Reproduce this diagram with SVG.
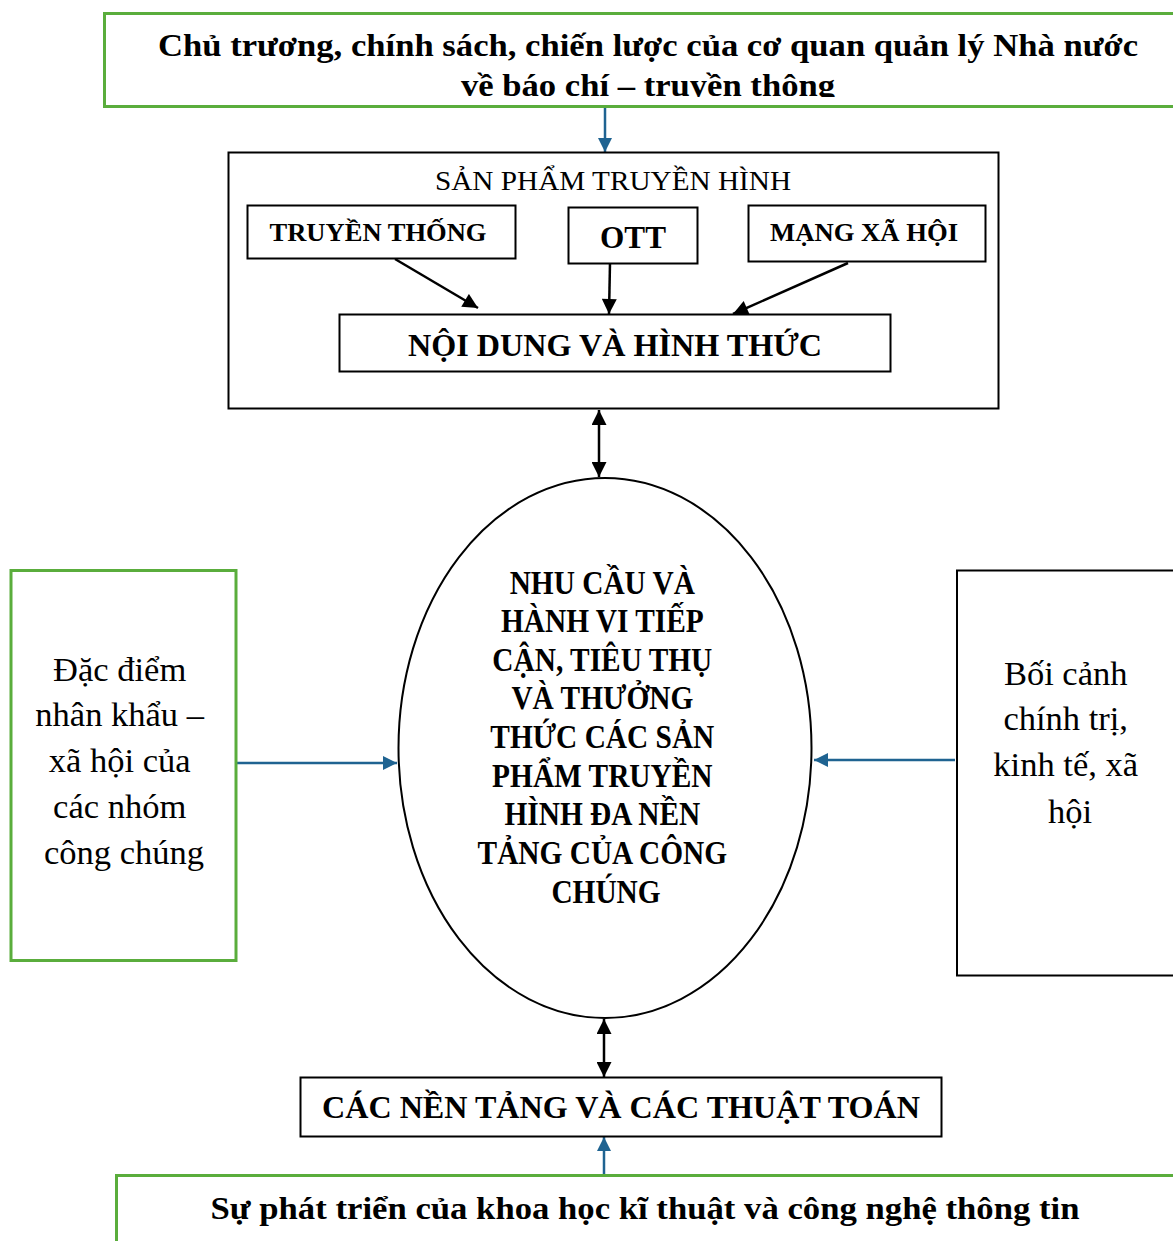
<svg xmlns="http://www.w3.org/2000/svg" width="1173" height="1241" viewBox="0 0 1173 1241">
<defs>
<marker id="bh" viewBox="0 0 10 10" refX="10" refY="5" markerWidth="15" markerHeight="14" markerUnits="userSpaceOnUse" orient="auto-start-reverse"><path d="M0,0 L10,5 L0,10 z" fill="#1f6391"/></marker>
<marker id="kh" viewBox="0 0 10 10" refX="10" refY="5" markerWidth="17" markerHeight="15" markerUnits="userSpaceOnUse" orient="auto-start-reverse"><path d="M0,0 L10,5 L0,10 z" fill="#000"/></marker>
<clipPath id="topclip"><rect x="104" y="13" width="1069" height="84"/></clipPath>
</defs>
<rect width="1173" height="1241" fill="#fff"/>
<g id="connectors" fill="none" stroke-width="2.5">
<line stroke="#1f6391" x1="605" y1="107" x2="605" y2="152" marker-end="url(#bh)"/>
<line stroke="#000" x1="599" y1="410" x2="599" y2="477" marker-start="url(#kh)" marker-end="url(#kh)"/>
<line stroke="#1f6391" x1="237" y1="763" x2="397" y2="763" marker-end="url(#bh)"/>
<line stroke="#1f6391" x1="955" y1="760" x2="814" y2="760" marker-end="url(#bh)"/>
<line stroke="#000" x1="604" y1="1019" x2="604" y2="1077" marker-start="url(#kh)" marker-end="url(#kh)"/>
<line stroke="#1f6391" x1="604" y1="1175" x2="604" y2="1137" marker-end="url(#bh)"/>
<line stroke="#000" x1="395" y1="259" x2="478" y2="308" marker-end="url(#kh)"/>
<line stroke="#000" x1="610" y1="263" x2="609" y2="314" marker-end="url(#kh)"/>
<line stroke="#000" x1="848" y1="263" x2="733" y2="314" marker-end="url(#kh)"/>
</g>
<g id="policy">
<rect fill="#fff" stroke="#5aad3c" stroke-width="3" x="104.5" y="13.5" width="1075" height="93"/>
<g clip-path="url(#topclip)">
<text font-family="Liberation Serif" font-weight="bold" text-anchor="middle" x="648" y="56" font-size="32" textLength="980" lengthAdjust="spacingAndGlyphs">Chủ trương, chính sách, chiến lược của cơ quan quản lý Nhà nước</text>
<text font-family="Liberation Serif" font-weight="bold" text-anchor="middle" x="648" y="96" font-size="32" textLength="374" lengthAdjust="spacingAndGlyphs">về báo chí – truyền thông</text>
</g>
</g>
<g id="products">
<rect fill="none" stroke="#000" stroke-width="2" x="228.5" y="152.5" width="770" height="256"/>
<text font-family="Liberation Serif" text-anchor="middle" x="613" y="190" font-size="28" textLength="356" lengthAdjust="spacingAndGlyphs">SẢN PHẨM TRUYỀN HÌNH</text>
</g>
<g id="traditional">
<rect fill="#fff" stroke="#000" stroke-width="2" x="247.5" y="205.5" width="268" height="53"/>
<text font-family="Liberation Serif" font-weight="bold" text-anchor="middle" x="378" y="241" font-size="26" textLength="217" lengthAdjust="spacingAndGlyphs">TRUYỀN THỐNG</text>
</g>
<g id="ott">
<rect fill="#fff" stroke="#000" stroke-width="2" x="568.5" y="207.5" width="129" height="56"/>
<text font-family="Liberation Serif" font-weight="bold" text-anchor="middle" x="633" y="248" font-size="31" textLength="66" lengthAdjust="spacingAndGlyphs">OTT</text>
</g>
<g id="social">
<rect fill="#fff" stroke="#000" stroke-width="2" x="748.5" y="205.5" width="237" height="56"/>
<text font-family="Liberation Serif" font-weight="bold" text-anchor="middle" x="864" y="241" font-size="26" textLength="188" lengthAdjust="spacingAndGlyphs">MẠNG XÃ HỘI</text>
</g>
<g id="content">
<rect fill="#fff" stroke="#000" stroke-width="2" x="339.5" y="314.5" width="551" height="57"/>
<text font-family="Liberation Serif" font-weight="bold" text-anchor="middle" x="615" y="356" font-size="31" textLength="414" lengthAdjust="spacingAndGlyphs">NỘI DUNG VÀ HÌNH THỨC</text>
</g>
<g id="needs">
<ellipse cx="605" cy="748" rx="206.5" ry="270" fill="#fff" stroke="#000" stroke-width="2"/>
<g transform="translate(606,0) scale(0.89,1)">
<text font-family="Liberation Serif" font-weight="bold" text-anchor="middle" font-size="33">
<tspan x="0" y="594">NHU CẦU VÀ</tspan>
<tspan x="0" y="632">HÀNH VI TIẾP</tspan>
<tspan x="0" y="671">CẬN, TIÊU THỤ</tspan>
<tspan x="0" y="709">VÀ THƯỞNG</tspan>
<tspan x="0" y="748">THỨC CÁC SẢN</tspan>
<tspan x="0" y="787">PHẨM TRUYỀN</tspan>
<tspan x="0" y="825">HÌNH ĐA NỀN</tspan>
<tspan x="0" y="864">TẢNG CỦA CÔNG</tspan>
<tspan x="0" y="903">CHÚNG</tspan>
</text>
</g>
</g>
<g id="demographics">
<rect fill="#fff" stroke="#5aad3c" stroke-width="3" x="11" y="570.5" width="225" height="390"/>
<text font-family="Liberation Serif" text-anchor="middle" font-size="34.5">
<tspan x="124" y="681">Đặc điểm</tspan>
<tspan x="124" y="726">nhân khẩu –</tspan>
<tspan x="124" y="772">xã hội của</tspan>
<tspan x="124" y="818">các nhóm</tspan>
<tspan x="124" y="864">công chúng</tspan>
</text>
</g>
<g id="context">
<rect fill="#fff" stroke="#000" stroke-width="2" x="957" y="570.5" width="230" height="405"/>
<text font-family="Liberation Serif" text-anchor="middle" font-size="34.5">
<tspan x="1070" y="685">Bối cảnh</tspan>
<tspan x="1070" y="730">chính trị,</tspan>
<tspan x="1070" y="776">kinh tế, xã</tspan>
<tspan x="1070" y="823">hội</tspan>
</text>
</g>
<g id="platforms">
<rect fill="#fff" stroke="#000" stroke-width="2" x="300.5" y="1077.5" width="641" height="59"/>
<text font-family="Liberation Serif" font-weight="bold" text-anchor="middle" x="621" y="1118" font-size="31" textLength="598" lengthAdjust="spacingAndGlyphs">CÁC NỀN TẢNG VÀ CÁC THUẬT TOÁN</text>
</g>
<g id="technology">
<rect fill="#fff" stroke="#5aad3c" stroke-width="3" x="116.5" y="1175.5" width="1070" height="80"/>
<text font-family="Liberation Serif" font-weight="bold" text-anchor="middle" x="645" y="1219" font-size="31" textLength="869" lengthAdjust="spacingAndGlyphs">Sự phát triển của khoa học kĩ thuật và công nghệ thông tin</text>
</g>
</svg>
